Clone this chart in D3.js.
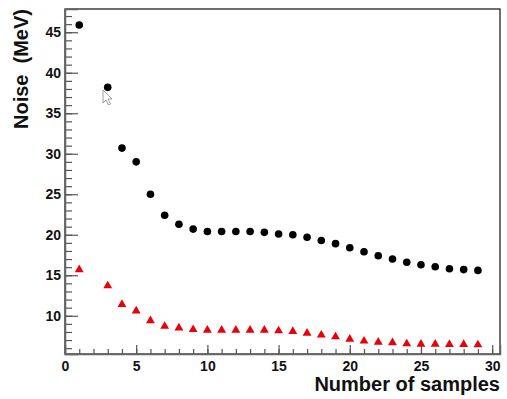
<!DOCTYPE html>
<html>
<head>
<meta charset="utf-8">
<script src="https://cdn.jsdelivr.net/npm/d3@7"></script>
<style>
  body { margin: 0; background: #fff; }
  text { font-family: "Liberation Sans", Arial, sans-serif; font-weight: bold; fill: #111; }
</style>
</head>
<body>
<svg width="507" height="399"></svg>
<script>
// number of samples (x = 2 is not in the picture)
var samples = [1, 3, 4, 5, 6, 7, 8, 9, 10, 11, 12, 13, 14, 15, 16, 17, 18, 19, 20, 21, 22, 23, 24, 25, 26, 27, 28, 29];

// black circles
var noiseBlack = [45.9, 38.2, 30.7, 29.0, 25.0, 22.4, 21.3, 20.7, 20.4, 20.4, 20.4, 20.4, 20.3, 20.1,
                  20.0, 19.7, 19.3, 18.9, 18.4, 17.9, 17.4, 17.0, 16.6, 16.3, 16.05, 15.8, 15.7, 15.6];

// red triangles
var noiseRed = [15.7, 13.7, 11.4, 10.6, 9.4, 8.7, 8.5, 8.3, 8.23, 8.23, 8.23, 8.23, 8.23, 8.15,
                8.07, 7.86, 7.62, 7.41, 7.12, 6.88, 6.75, 6.67, 6.54, 6.5, 6.5, 6.47, 6.47, 6.42];

var xTicks = [0, 5, 10, 15, 20, 25, 30];
var yTicks = [10, 15, 20, 25, 30, 35, 40, 45];

var margin = {top: 9, right: 7, bottom: 45, left: 65},
    width = 507 - margin.left - margin.right,
    height = 399 - margin.top - margin.bottom;

var x = d3.scaleLinear().domain([0, 30.55]).range([0, width]);
var y = d3.scaleLinear().domain([5.28, 47.87]).range([height, 0]);

var svg = d3.select('svg').append('g')
    .attr('transform', 'translate(' + margin.left + ',' + margin.top + ')');

// frame
svg.append('rect')
    .attr('width', width).attr('height', height)
    .attr('fill', 'none').attr('stroke', '#111').attr('stroke-width', 1.2);

// minor ticks
svg.append('g')
    .attr('transform', 'translate(0,' + height + ')')
    .call(d3.axisBottom(x).tickValues(d3.range(1, 31)).tickSize(-5).tickFormat(''))
    .call(function(g) { g.select('.domain').remove(); });
svg.append('g')
    .call(d3.axisLeft(y).tickValues(d3.range(6, 48)).tickSize(-7).tickFormat(''))
    .call(function(g) { g.select('.domain').remove(); });

// major ticks with labels
var xAxis = svg.append('g')
    .attr('transform', 'translate(0,' + height + ')')
    .call(d3.axisBottom(x).tickValues(xTicks).tickSize(-9).tickPadding(7));
var yAxis = svg.append('g')
    .call(d3.axisLeft(y).tickValues(yTicks).tickSize(-13).tickPadding(4));

svg.selectAll('.tick line').attr('stroke', '#555').attr('stroke-width', 1.2);
svg.selectAll('.domain').attr('stroke', '#666').attr('stroke-width', 1.5);
svg.selectAll('.tick text').attr('font-size', 14).attr('font-family', '"Liberation Sans", Arial, sans-serif')
    .attr('font-weight', 'bold').attr('fill', '#111');

// axis titles
svg.append('text')
    .attr('x', width).attr('y', height + 37)
    .attr('text-anchor', 'end')
    .attr('font-size', 20)
    .text('Number of samples');

svg.append('text')
    .attr('transform', 'translate(-37,0) rotate(-90)')
    .attr('text-anchor', 'end')
    .attr('font-size', 20)
    .attr('xml:space', 'preserve')
    .style('white-space', 'pre')
    .text('Noise  (MeV)');

// data
svg.selectAll('circle.black')
    .data(samples)
    .enter().append('circle')
    .attr('class', 'black')
    .attr('r', 3.8)
    .attr('cx', function(d) { return x(d); })
    .attr('cy', function(d, i) { return y(noiseBlack[i]); })
    .style('fill', '#000');

var tri = d3.symbol().type(d3.symbolTriangle).size(34);
svg.selectAll('path.red')
    .data(samples)
    .enter().append('path')
    .attr('class', 'red')
    .attr('d', tri)
    .attr('transform', function(d, i) { return 'translate(' + x(d) + ',' + y(noiseRed[i]) + ')'; })
    .style('fill', '#e8000b');

// mouse pointer left on the screenshot
d3.select('svg').append('path')
    .attr('d', 'M103,90 L103,103 L106,100 L108.5,105 L110.5,104 L108,99 L112,99 Z')
    .attr('fill', '#fff').attr('stroke', '#888').attr('stroke-width', 0.8);
</script>
</body>
</html>
